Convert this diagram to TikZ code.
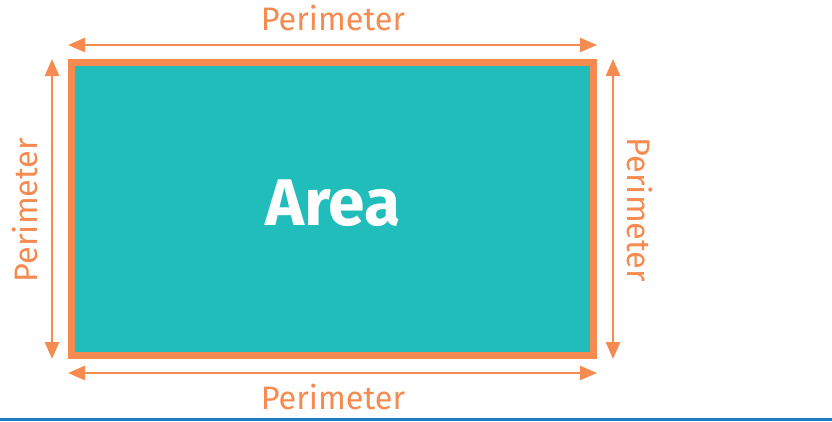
\documentclass[tikz,border=0pt]{standalone}
\usepackage{fontspec}
\setmainfont{Fira Sans}
\usetikzlibrary{arrows.meta}
\definecolor{peri}{HTML}{F68B52}
\definecolor{tealfill}{HTML}{21BDBA}
\definecolor{baseblue}{HTML}{1B7DC0}
\tikzset{
  dimarrow/.style={draw=peri, line width=2.6pt, {Triangle[length=17pt,width=14pt]}-{Triangle[length=17pt,width=14pt]}},
  perilabel/.style={text=peri, font=\fontsize{32.5}{32.5}\selectfont, inner sep=0pt},
}
\begin{document}
\begin{tikzpicture}[x=1pt,y=-1pt]
\useasboundingbox (0,0) rectangle (832,421);
\node[draw=peri, line width=7pt, fill=tealfill, minimum width=522pt, minimum height=293pt, inner sep=0pt, outer sep=0pt, anchor=north west] (area) at (71.5,62.5) {};
\node[text=white, font=\bfseries\fontsize{66}{66}\selectfont, inner sep=0pt] (areatext) at (333,203) {Area};
\coordinate (tl) at (68,45); \coordinate (tr) at (597,45);
\coordinate (bl) at (68,373); \coordinate (br) at (597,373);
\coordinate (lt) at (52,59); \coordinate (lb) at (52,359);
\coordinate (rt) at (613,59); \coordinate (rb) at (613,359);
\draw[dimarrow] (tl) -- (tr);
\draw[dimarrow] (bl) -- (br);
\draw[dimarrow] (lt) -- (lb);
\draw[dimarrow] (rt) -- (rb);
\node[perilabel] (ptop) at (333,18) {Perimeter};
\node[perilabel] (pbot) at (333,397) {Perimeter};
\node[perilabel, rotate=90] (pleft) at (25,210) {Perimeter};
\node[perilabel, rotate=-90] (pright) at (640,210) {Perimeter};
\fill[baseblue] (0,418) rectangle (832,421);
\end{tikzpicture}
\end{document}
